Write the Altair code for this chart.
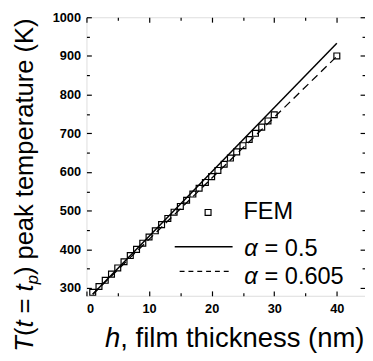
import altair as alt
import pandas as pd

# ---------------- data ----------------
fem_h = [1, 2, 3, 4, 5, 6, 7, 8, 9, 10, 11, 12, 13, 14, 15, 16, 17, 18, 19, 20,
         21, 22, 23, 24, 25, 26, 27, 28, 29, 30, 40]
fem_T = [289, 304, 320, 336, 352, 368, 384, 400, 416, 432, 448, 464, 480, 496, 511, 527,
         543, 558, 573, 588, 604, 620, 636, 652, 668, 684, 700, 716, 732, 748, 900]
solid_h = [1, 40]
solid_T = [284, 933]
dash_h = [1, 40]
dash_T = [284, 899]

x_major = [0, 10, 20, 30, 40]
x_minor = [5, 15, 25, 35]
y_major = [300, 400, 500, 600, 700, 800, 900, 1000]
y_minor = [350, 450, 550, 650, 750, 850, 950]

legend_labels = ["FEM", "α = 0.5", "α = 0.605"]
x_title_parts = ["h", ", film thickness (nm)"]
y_title_parts = ["T", "(", "t", " = ", "t", "p", ") peak temperature (K)"]

# ---------------- layout ----------------
W, H = 284, 284
FONT = "Liberation Sans"
xs = alt.Scale(domain=[0, 44.5], nice=False, zero=False)
ys = alt.Scale(domain=[280, 1000], nice=False, zero=False)

# approximate Arial / Liberation Sans advance widths (em)
CW = {"T": .611, "(": .333, ")": .333, "t": .278, " ": .278, "=": .584, "p": .556,
      "e": .556, "a": .556, "k": .5, "m": .833, "r": .333, "u": .556, "K": .667,
      "h": .556, ",": .278, "f": .278, "i": .222, "l": .222, "c": .5, "n": .556,
      "s": .5, "α": .58, "0": .556, ".": .278, "5": .556, "6": .556}


def tw(s, fs):
    return sum(CW.get(c, .556) for c in s) * fs


def one():
    return pd.DataFrame({"a": [0]})


fem_df = pd.DataFrame({"h": fem_h, "T": fem_T})
solid_df = pd.DataFrame({"h": solid_h, "T": solid_T})
dash_df = pd.DataFrame({"h": dash_h, "T": dash_T})

common = dict(grid=False, domain=False, title=None)

ax_x_labels = alt.Axis(orient="bottom", values=x_major, ticks=False, tickSize=0,
                       labelPadding=7, labelFont=FONT, labelFontSize=13, format="d",
                       labelFontWeight="bold", labelColor="black", **common)
ax_y_labels = alt.Axis(orient="left", values=y_major, ticks=False, tickSize=0,
                       labelPadding=6, labelFont=FONT, labelFontSize=13, format="d",
                       labelFontWeight="bold", labelColor="black", **common)


def tick_axis(orient, offset, values, size):
    return alt.Axis(orient=orient, offset=offset, values=values, labels=False,
                    ticks=True, tickSize=size, tickColor="black", tickWidth=1.2,
                    **common)


points = alt.Chart(fem_df).mark_point(
    shape="square", filled=False, size=36, stroke="black", strokeWidth=1.2, opacity=1
).encode(
    x=alt.X("h:Q", scale=xs, axis=ax_x_labels),
    y=alt.Y("T:Q", scale=ys, axis=ax_y_labels),
)

solid = alt.Chart(solid_df).mark_line(color="black", strokeWidth=1.5).encode(
    x=alt.X("h:Q", scale=xs, axis=tick_axis("top", -H, x_major, 5)),
    y=alt.Y("T:Q", scale=ys, axis=tick_axis("right", -W, y_major, 5)),
)

dashed = alt.Chart(dash_df).mark_line(color="black", strokeWidth=1.3,
                                      strokeDash=[8, 5]).encode(
    x=alt.X("h:Q", scale=xs, axis=tick_axis("top", -H, x_minor, 3)),
    y=alt.Y("T:Q", scale=ys, axis=tick_axis("right", -W, y_minor, 3)),
)

ghost1 = alt.Chart(solid_df).mark_line(opacity=0).encode(
    x=alt.X("h:Q", scale=xs, axis=tick_axis("bottom", -H, x_major, 5)),
    y=alt.Y("T:Q", scale=ys, axis=tick_axis("left", -W, y_major, 5)),
)
ghost2 = alt.Chart(solid_df).mark_line(opacity=0).encode(
    x=alt.X("h:Q", scale=xs, axis=tick_axis("bottom", -H, x_minor, 3)),
    y=alt.Y("T:Q", scale=ys, axis=tick_axis("left", -W, y_minor, 3)),
)


def text(s, x, y, fs, italic=False, angle=0):
    kw = dict(text=s, font=FONT, fontSize=fs, align="left", baseline="alphabetic",
              color="black")
    if italic:
        kw["fontStyle"] = "italic"
    if angle:
        kw["angle"] = angle
    return alt.Chart(one()).mark_text(**kw).encode(x=alt.value(x), y=alt.value(y))


layers = [points, solid, dashed, ghost1, ghost2]

# x title
XFS = 28
x0, yb = 19, 336
layers.append(text(x_title_parts[0], x0, yb, XFS, italic=True))
layers.append(text(x_title_parts[1], x0 + tw("h", XFS), yb, XFS))

# y title (rotated, reading upward); leading spaces are collapsed by SVG,
# so they are turned into offsets
YFS = 26
SUB = 17
ypos = 341
xb = -55
for part in y_title_parts:
    italic = part in ("T", "t", "p")
    lead = len(part) - len(part.lstrip(" "))
    fs = SUB if part == "p" else YFS
    ypos -= tw(" " * lead, fs)
    core = part.lstrip(" ")
    layers.append(text(core, xb + (6 if part == "p" else 0), ypos, fs,
                       italic=italic, angle=270))
    ypos -= tw(core, fs)

# legend
LFS = 24
layers.append(alt.Chart(one()).mark_point(
    shape="square", filled=False, size=36, stroke="black", strokeWidth=1.2, opacity=1
).encode(x=alt.value(124), y=alt.value(199)))
layers.append(text(legend_labels[0], 160, 206, LFS))
layers.append(alt.Chart(one()).mark_rule(color="black", strokeWidth=1.5).encode(
    x=alt.value(90), x2=alt.value(149), y=alt.value(234)))
layers.append(alt.Chart(one()).mark_rule(color="black", strokeWidth=1.3,
                                         strokeDash=[5, 4]).encode(
    x=alt.value(95), x2=alt.value(145), y=alt.value(259)))
for lab, yb2 in [(legend_labels[1], 243), (legend_labels[2], 272)]:
    layers.append(text(lab[0], 161, yb2, LFS, italic=True))
    rest = lab[1:]
    layers.append(text(rest.lstrip(" "), 161 + tw("α ", LFS), yb2, LFS))

chart = alt.layer(*layers).resolve_axis(x="independent", y="independent").properties(
    width=W, height=H,
    autosize=alt.AutoSizeParams(type="none"),
    padding={"left": 80, "top": 6, "right": 0, "bottom": 60},
).configure_view(stroke="black", strokeWidth=1.5).configure(background="white")

chart.save("out.html", embed_options={"renderer": "svg", "actions": False})
